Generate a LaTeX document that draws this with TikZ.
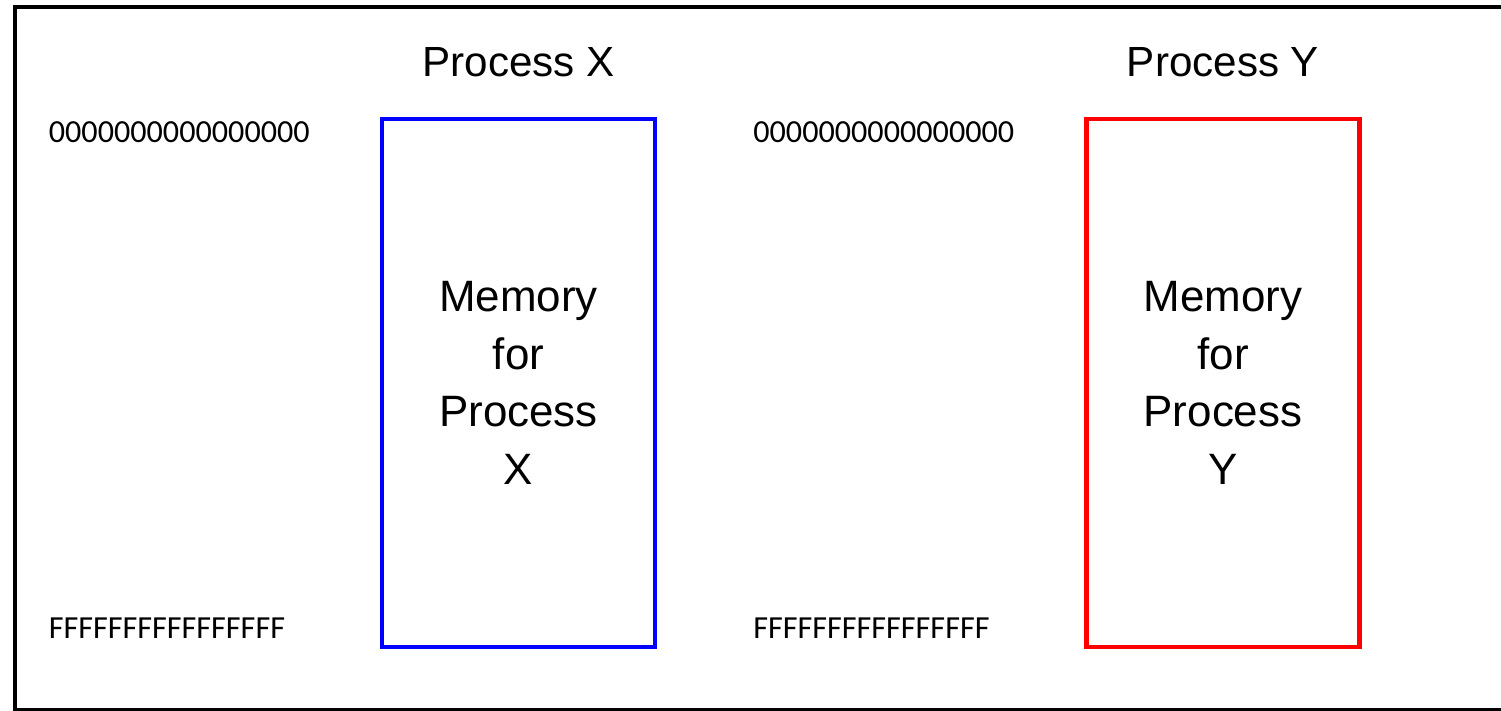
\documentclass[tikz,border=0pt]{standalone}
\usepackage{fontspec}
\setmainfont{Liberation Sans}
\newfontfamily\hexfont{Carlito}
\usetikzlibrary{positioning}
\tikzset{
  membox/.style={draw=#1, line width=0.09cm, minimum width=5.46cm, minimum height=10.56cm,
    align=center, inner sep=0pt, font=\fontsize{25}{32.7}\selectfont},
  proctitle/.style={inner sep=0pt, font=\fontsize{24}{28}\selectfont},
  hexaddr/.style={anchor=west, inner sep=0pt, font=\hexfont\fontsize{18.3}{21}\selectfont}
}

\begin{document}
\begin{tikzpicture}
  \useasboundingbox (0,0) rectangle (30.02,14.2);
  \draw[line width=0.08cm] (30.5,14.06) -- (0.3,14.06) -- (0.3,0.01) -- (30.5,0.01);
  \foreach \p/\x/\c in {X/10.37/blue,Y/24.46/red}
  {
    \node[membox=\c] (mem\p) at (\x,6.54) {Memory\\for\\Process\\\p};
    \node[proctitle, above=0.78cm of mem\p] (title\p) {Process \p};
    \node[hexaddr] (low\p) at (\x-9.4,11.55) {0000000000000000};
    \node[hexaddr] (high\p) at (\x-9.4,1.63) {FFFFFFFFFFFFFFFF};
  }
\end{tikzpicture}
\end{document}
